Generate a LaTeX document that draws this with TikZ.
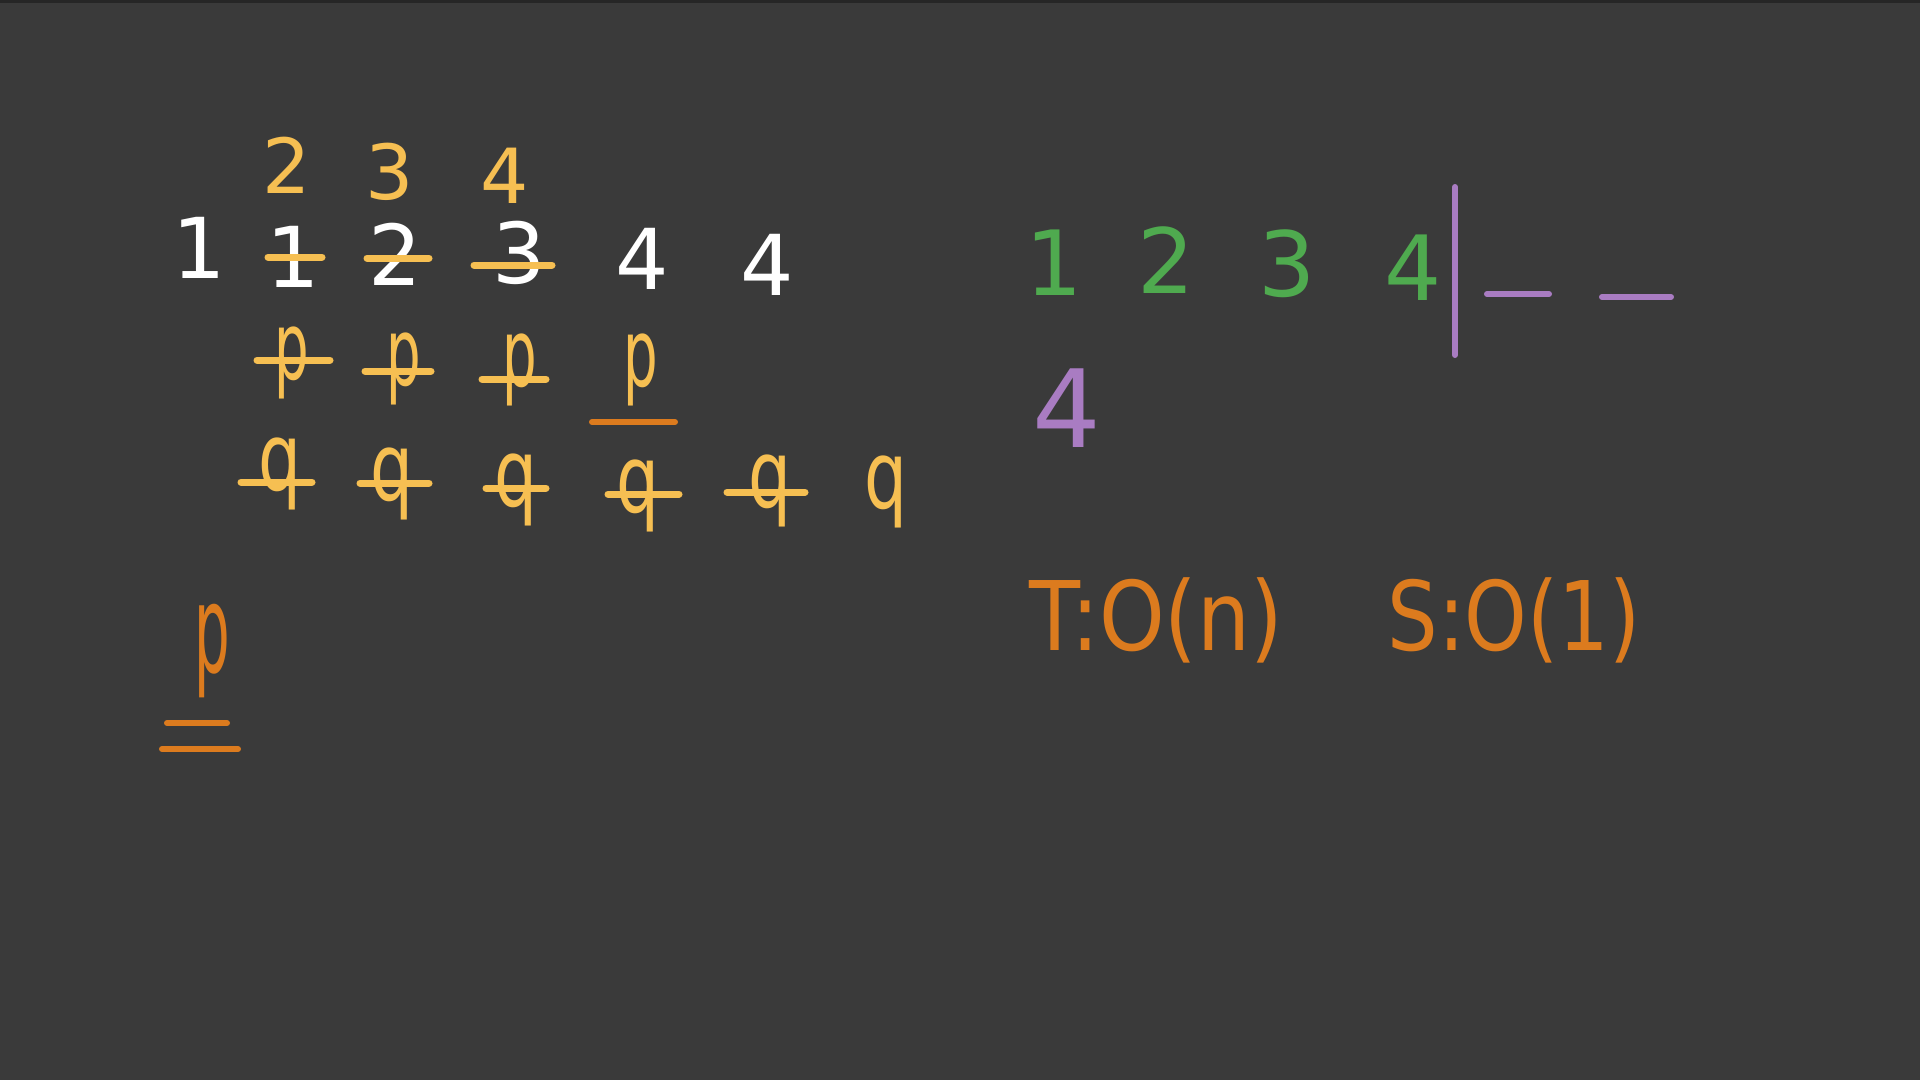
\documentclass[tikz,border=0pt]{standalone}
\usepackage{fontspec}
\usepackage{graphicx}
\setmainfont{DejaVu Sans}
\definecolor{bg}{HTML}{3A3A3A}
\definecolor{topline}{HTML}{262626}
\definecolor{hwyellow}{HTML}{F6BF52}
\definecolor{hworange}{HTML}{DC7B1E}
\definecolor{hwgreen}{HTML}{4FAA4F}
\definecolor{hwpurple}{HTML}{A97CC2}
\tikzset{
  glyph/.style={inner sep=0pt, outer sep=0pt, anchor=center},
  topnum/.style={glyph, text=hwyellow, font=\fontsize{76}{80}\selectfont},
  rownum/.style={glyph, text=white, font=\fontsize{84}{90}\selectfont},
  ptr/.style={glyph, text=hwyellow, font=\fontsize{94}{100}\selectfont},
  grnum/.style={glyph, text=hwgreen, font=\fontsize{90}{96}\selectfont},
  cplx/.style={glyph, text=hworange, font=\fontsize{96}{104}\selectfont},
  strike/.style={draw=hwyellow, line width=7pt, line cap=round},
  ostrike/.style={draw=hworange, line width=6pt, line cap=round},
  pstroke/.style={draw=hwpurple, line width=6pt, line cap=round}
}
\newcommand{\narrowp}[1]{\scalebox{0.58}[1]{#1}}
\newcommand{\narrowq}[1]{\scalebox{0.72}[1]{#1}}
\begin{document}
\begin{tikzpicture}[x=1pt,y=-1pt]
\fill[bg] (0,0) rectangle (1920,1080);
\fill[topline] (0,0) rectangle (1920,3);
\useasboundingbox (0,0) rectangle (1920,1080);

% yellow replacement digits
\node[topnum] (t2) at (287,165) {2};
\node[topnum] (t3) at (390,172) {3};
\node[topnum] (t4) at (505,176) {4};

% white array
\node[rownum] (w1) at (199,248) {1};
\node[rownum] (w2) at (293,257) {1};
\node[rownum] (w3) at (395,254) {2};
\node[rownum] (w4) at (519,253) {3};
\node[rownum] (w5) at (642,259) {4};
\node[rownum] (w6) at (767,265) {4};
\coordinate (s1a) at (268,257); \coordinate (s1b) at (322,257);
\coordinate (s2a) at (367,258); \coordinate (s2b) at (429,258);
\coordinate (s3a) at (474,265); \coordinate (s3b) at (552,265);
\draw[strike] (s1a) -- (s1b);
\draw[strike] (s2a) -- (s2b);
\draw[strike] (s3a) -- (s3b);

% p pointers
\node[ptr] (p1) at (292,363) {\narrowp{p}};
\node[ptr] (p2) at (404,369) {\narrowp{p}};
\node[ptr] (p3) at (520,370) {\narrowp{p}};
\node[ptr] (p4) at (641,370) {\narrowp{p}};
\coordinate (ps1a) at (257,360); \coordinate (ps1b) at (330,360);
\coordinate (ps2a) at (365,371); \coordinate (ps2b) at (431,371);
\coordinate (ps3a) at (482,379); \coordinate (ps3b) at (546,379);
\coordinate (pua) at (592,422); \coordinate (pub) at (675,422);
\draw[strike] (ps1a) -- (ps1b);
\draw[strike] (ps2a) -- (ps2b);
\draw[strike] (ps3a) -- (ps3b);
\draw[ostrike] (pua) -- (pub);

% q pointers
\node[ptr] (q1) at (280,474) {\narrowq{q}};
\node[ptr] (q2) at (392,484) {\narrowq{q}};
\node[ptr] (q3) at (516,490) {\narrowq{q}};
\node[ptr] (q4) at (638,496) {\narrowq{q}};
\node[ptr] (q5) at (770,491) {\narrowq{q}};
\node[ptr] (q6) at (886,492) {\narrowq{q}};
\coordinate (qs1a) at (241,482); \coordinate (qs1b) at (312,482);
\coordinate (qs2a) at (360,483); \coordinate (qs2b) at (429,483);
\coordinate (qs3a) at (486,488); \coordinate (qs3b) at (546,488);
\coordinate (qs4a) at (608,494); \coordinate (qs4b) at (679,494);
\coordinate (qs5a) at (727,492); \coordinate (qs5b) at (805,492);
\draw[strike] (qs1a) -- (qs1b);
\draw[strike] (qs2a) -- (qs2b);
\draw[strike] (qs3a) -- (qs3b);
\draw[strike] (qs4a) -- (qs4b);
\draw[strike] (qs5a) -- (qs5b);

% result p
\node[ptr, text=hworange, font=\fontsize{122}{130}\selectfont] (pres) at (212,651) {\scalebox{0.46}[1]{p}};
\coordinate (u1a) at (167,723); \coordinate (u1b) at (227,723);
\coordinate (u2a) at (162,749); \coordinate (u2b) at (238,749);
\draw[ostrike] (u1a) -- (u1b);
\draw[ostrike] (u2a) -- (u2b);

% green array with purple split
\node[grnum] (g1) at (1054,263) {1};
\node[grnum] (g2) at (1166,260) {2};
\node[grnum] (g3) at (1287,264) {3};
\node[grnum] (g4) at (1413,268) {4};
\coordinate (va) at (1455,187); \coordinate (vb) at (1455,355);
\coordinate (d1a) at (1487,294); \coordinate (d1b) at (1549,294);
\coordinate (d2a) at (1602,297); \coordinate (d2b) at (1671,297);
\draw[pstroke] (va) -- (vb);
\draw[pstroke] (d1a) -- (d1b);
\draw[pstroke] (d2a) -- (d2b);
\node[glyph, text=hwpurple, font=\fontsize{108}{116}\selectfont] (pu4) at (1067,408) {4};

% complexity
\node[cplx] (tc) at (1156,620) {\scalebox{0.87}[1]{T:O(n)}};
\node[cplx] (sc) at (1514,620) {\scalebox{0.83}[1]{S:O(1)}};
\end{tikzpicture}
\end{document}
